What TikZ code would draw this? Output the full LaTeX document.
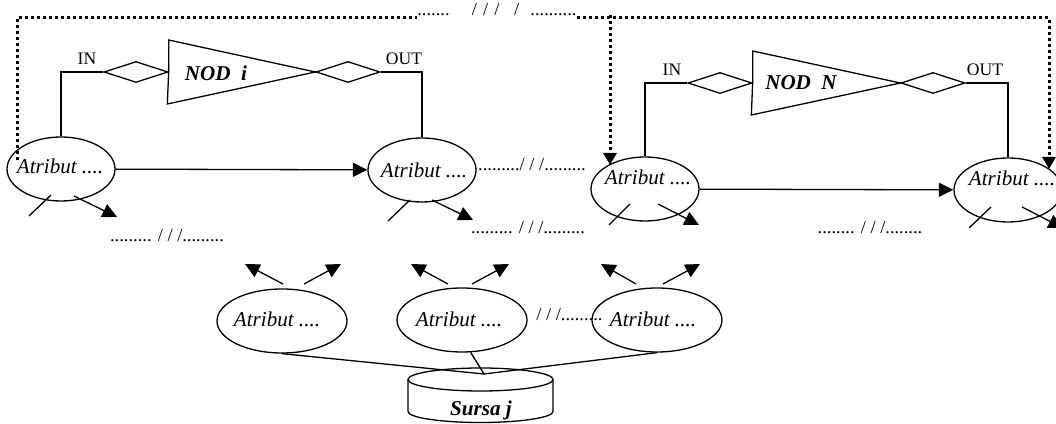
\documentclass[tikz,border=0pt]{standalone}
\usepackage{fontspec}
\setmainfont{Liberation Serif}
\usetikzlibrary{arrows.meta,shapes.geometric}

\def\attrtext{Atribut ....}
\def\brk{......... / / /.........}

\begin{document}
\begin{tikzpicture}[x=0.2mm, y=-0.2mm,
    attr/.style={ellipse, draw, line width=0.26mm, inner sep=0pt,
      minimum width=21.6mm, minimum height=12.8mm},
    src/.style={attr, minimum width=26mm},
    lbl/.style={inner sep=0pt, font=\fontsize{12}{14}\selectfont\itshape},
    blk/.style={inner sep=0pt, font=\fontsize{12}{14}\selectfont\bfseries\itshape},
    tag/.style={inner sep=0pt, font=\fontsize{10}{12}\selectfont},
    gap/.style={inner sep=0pt, anchor=base, font=\fontsize{10.5}{12}\selectfont},
    port/.style={diamond, draw, line width=0.26mm, inner sep=0pt,
      minimum width=12.8mm, minimum height=4.2mm},
    link/.style={line width=0.26mm},
    flow/.style={link, -{Triangle[length=2.9mm, width=2.8mm]}},
    ref/.style={line width=0.6mm, dash pattern=on 0.6mm off 0.6mm},
    refarr/.style={ref, -{Triangle[length=2.4mm, width=2.6mm]}},
  ]
  \useasboundingbox (0,0) rectangle (1056,424);
  \clip (0,0) rectangle (1056,424);

  % attributes of the two nodes
  \node[attr] (a1) at (61,169) {};
  \node[attr] (a2) at (422,170) {};
  \node[attr] (a3) at (645,189) {};
  \node[attr] (a4) at (1008,190) {};
  \node[lbl] (a1t) at (60,166) {\attrtext};
  \node[lbl] (a2t) at (424,170) {\attrtext};
  \node[lbl] (a3t) at (648,177) {\attrtext};
  \node[lbl] (a4t) at (1012,178) {\attrtext};

  % node i
  \node[port] (in1) at (136,72) {};
  \node[port] (out1) at (348,72) {};
  \draw[link] (in1.east) -- ++(0,-32) -- (out1.west) -- ++(-148,32) -- cycle;
  \node[blk] (nodi) at (216,73) {NOD\ \ i};
  \node[tag] (in1t) at (87,59) {IN};
  \node[tag] (out1t) at (404,59) {OUT};
  \draw[link] (a1.north) |- (in1.west);
  \draw[link] (a2.north) |- (out1.east);

  % node N
  \node[port] (in2) at (720,83) {};
  \node[port] (out2) at (933,83) {};
  \draw[link] (in2.east) -- ++(0,-32) -- (out2.west) -- ++(-149,32) -- cycle;
  \node[blk] (nodn) at (801,83) {NOD\ \ N};
  \node[tag] (in2t) at (672,70) {IN};
  \node[tag] (out2t) at (985,70) {OUT};
  \draw[link] (a3.north) |- (in2.west);
  \draw[link] (a4.north) |- (out2.east);

  \draw[flow] (a1) -- (a2);
  \draw[flow] (a3) -- (a4);

  % stubs under the attributes
  \draw[link] ([shift={(-32,47)}]a1.center) -- ++(22,-21);
  \draw[flow] ([shift={(13,27)}]a1.center) -- ++(43,21);
  \draw[link] ([shift={(-34,51)}]a2.center) -- ++(22,-21);
  \draw[flow] ([shift={(10,30)}]a2.center) -- ++(41,20);
  \draw[link] ([shift={(-36,36)}]a3.center) -- ++(21,-21);
  \draw[flow] ([shift={(13,15)}]a3.center) -- ++(41,21);
  \draw[link] ([shift={(-39,38)}]a4.center) -- ++(22,-21);
  \draw[flow] ([shift={(14,17)}]a4.center) -- ++(41,21);

  \node[gap] (g1) at (167,242) {\brk};
  \node[gap] (g2) at (528,234) {\brk};
  \node[gap] (g3) at (870,234) {........ / / /........};
  \node[gap] (g4) at (532,171) {........./ / /.........};

  % links between the nodes
  \node[gap, anchor=base west] (gtop) at (417,16)
    {.......\hspace{1.2em}/\,\,/\,\,/\hspace{0.8em}/\hspace{0.6em}..........};
  \coordinate (c1) at (17,160);
  \coordinate (c3) at (610,165);
  \coordinate (c4) at (1049,169);
  \draw[ref] (c1) |- ([yshift=-1]gtop.base west);
  \draw[refarr] ([yshift=-1]gtop.base east) -| (c4);
  \draw[refarr] (c3 |- gtop.base east) ++(0,-1) -- (c3);

  % source attributes
  \node[src] (b1) at (282,321) {};
  \node[src] (b2) at (462,320) {};
  \node[src] (b3) at (657,320) {};
  \node[lbl] (b1t) at (277,319) {\attrtext};
  \node[lbl] (b2t) at (459,319) {\attrtext};
  \node[lbl] (b3t) at (653,319) {\attrtext};
  \node[gap, anchor=base west] (g5) at (536,321) {/ / /.........};

  \draw[flow] ([shift={(1,-37)}]b1.center) -- ++(-38,-20);
  \draw[flow] ([shift={(22,-37)}]b1.center) -- ++(37,-20);
  \draw[flow] ([shift={(-14,-36)}]b2.center) -- ++(-37,-20);
  \draw[flow] ([shift={(10,-36)}]b2.center) -- ++(37,-20);
  \draw[flow] ([shift={(-21,-36)}]b3.center) -- ++(-35,-20);
  \draw[flow] ([shift={(6,-36)}]b3.center) -- ++(37,-20);

  % source j
  \coordinate (hub) at (484,374);
  \coordinate (db) at (480.5,379.5);
  \draw[link] (b1.south) -- (hub);
  \draw[link] (b2.285) -- (hub);
  \draw[link] (b3.south) -- (hub);
  \draw[link] (db) ellipse [x radius=14.5mm, y radius=2.3mm];
  \draw[link] ([xshift=-14.5mm]db) -- ++(0,32)
    arc[start angle=180, end angle=360, x radius=14.5mm, y radius=2.2mm]
    -- ([xshift=14.5mm]db);
  \node[blk] (dbt) at (481,410) {Sursa j};
\end{tikzpicture}
\end{document}
